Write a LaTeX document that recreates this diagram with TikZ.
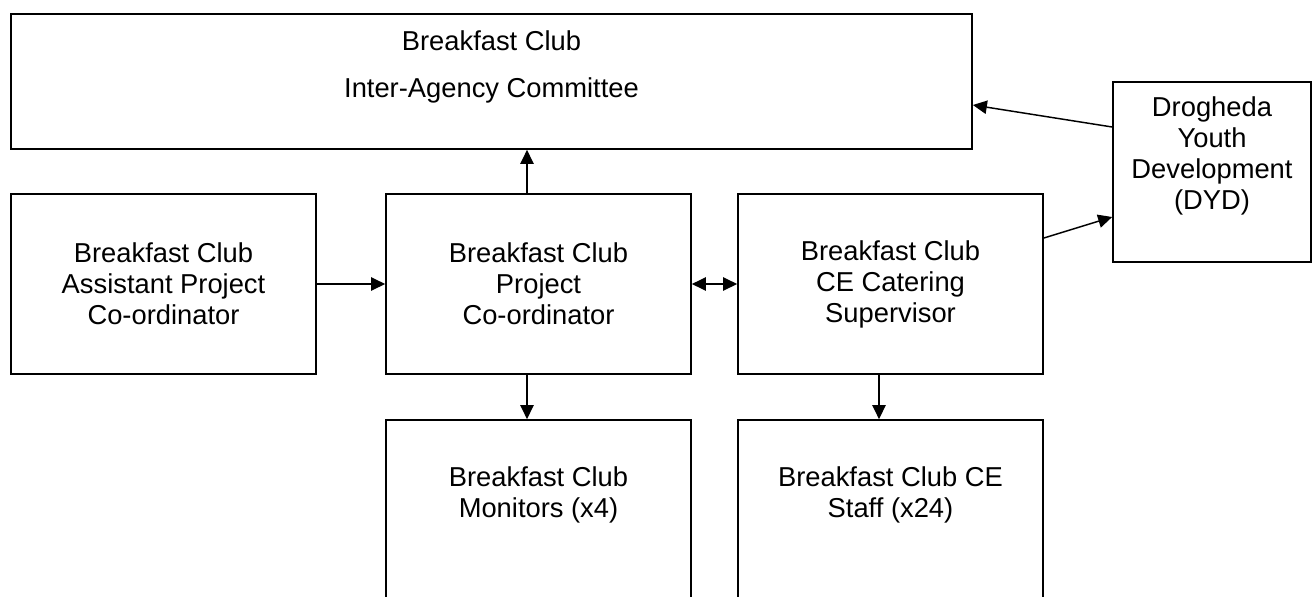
\documentclass[tikz,border=0pt]{standalone}
\usepackage{fontspec}
\setmainfont{Liberation Sans}
\usetikzlibrary{arrows.meta}

\tikzset{
  orgbox/.style={draw, line width=1.3pt, inner sep=0pt, align=center,
    minimum width=228.75pt, minimum height=135pt},
  orgtext/.style={inner sep=0pt, align=center},
  link/.style={line width=1.1pt, -{Triangle[length=10.5pt,width=10pt]}},
  twoway/.style={line width=1.1pt, {Triangle[length=10.5pt,width=10pt]}-{Triangle[length=10.5pt,width=10pt]}},
}

\begin{document}
\begin{tikzpicture}[x=.75pt, y=-.75pt, font=\fontsize{20.5pt}{23.25pt}\selectfont]
\useasboundingbox (0,0) rectangle (1312,596);
% boxes
\node[orgbox, minimum width=720.75pt, minimum height=101.25pt] (committee) at (491.5,81.5) {};
\node[orgbox, minimum width=148.5pt] (dyd) at (1212,172) {};
\node[orgbox] (assistant) at (163.5,284) {Breakfast Club\\Assistant Project\\Co-ordinator};
\node[orgbox] (coord) at (538.5,284) {Breakfast Club\\Project\\Co-ordinator};
\node[orgbox] (catering) at (890.5,284) {Breakfast Club\\CE Catering\\Supervisor};
\node[orgbox] (monitors) at (538.5,510) {};
\node[orgbox] (staff) at (890.5,510) {};
% texts near the top of their boxes
\node[orgtext, anchor=base] (committee title) at (491.5,50) {Breakfast Club};
\node[orgtext, anchor=base] (committee name) at (491.5,97) {Inter-Agency Committee};
\node[orgtext, anchor=north] (dyd text) at ([yshift=-11.25pt]dyd.north) {Drogheda\\Youth\\Development\\(DYD)};
\node[orgtext, anchor=north] (monitors text) at ([yshift=-35.25pt]monitors.north) {Breakfast Club\\Monitors (x4)};
\node[orgtext, anchor=north] (staff text) at ([yshift=-35.25pt]staff.north) {Breakfast Club CE\\Staff (x24)};
% connectors
\draw[link] ([xshift=-8.625pt]coord.north) -- ([xshift=-8.625pt]coord.north |- committee.south);
\draw[link] (assistant.east) -- (coord.west);
\draw[twoway] (coord.east) -- (catering.west);
\draw[link] ([xshift=-8.625pt]coord.south) -- ([xshift=-8.625pt]monitors.north);
\draw[link] ([xshift=-8.625pt]catering.south) -- ([xshift=-8.625pt]staff.north);
\draw[link] ([yshift=33.75pt]dyd.west) -- ([yshift=-17.625pt]committee.east);
\draw[link] ([yshift=34.5pt]catering.east) -- ([yshift=-33.75pt]dyd.west);
\end{tikzpicture}
\end{document}
